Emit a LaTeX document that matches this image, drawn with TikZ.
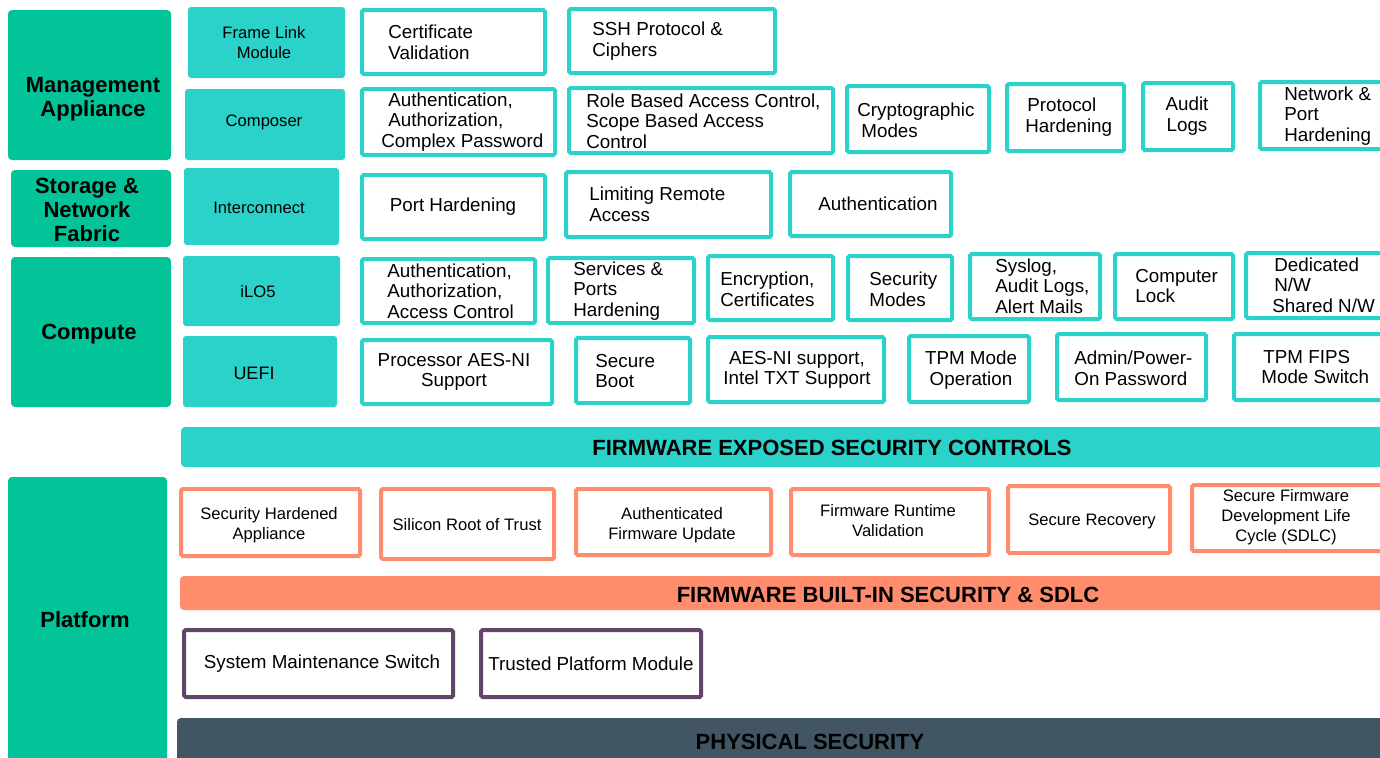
\documentclass[tikz,border=0pt]{standalone}
\usepackage{fontspec}
\setmainfont{Liberation Sans}
\definecolor{catgreen}{HTML}{02C498}
\definecolor{hteal}{HTML}{2AD2C9}
\definecolor{horange}{HTML}{FF8D6D}
\definecolor{hpurple}{HTML}{614767}
\definecolor{hslate}{HTML}{425563}
\tikzset{
  cat/.style={fill=catgreen, rounded corners=2pt},
  sub/.style={fill=hteal, rounded corners=1.5pt},
  tb/.style={draw=hteal, line width=2pt, fill=white, rounded corners=0.8pt},
  ob/.style={draw=horange, line width=2pt, fill=white, rounded corners=0.8pt},
  pb/.style={draw=hpurple, line width=2pt, fill=white, rounded corners=0.8pt},
  bar/.style={rounded corners=2pt},
  cattxt/.style={font=\fontsize{11}{12}\selectfont\bfseries, inner sep=0pt, align=center},
  subtxt/.style={font=\fontsize{8.3}{10}\selectfont, inner sep=0pt, align=center},
  lt/.style={font=\fontsize{9.4}{10.3}\selectfont, inner sep=0pt, align=left, anchor=west},
  ct/.style={font=\fontsize{9.4}{10.3}\selectfont, inner sep=0pt, align=center},
  ot/.style={font=\fontsize{8.3}{10}\selectfont, inner sep=0pt, align=center},
  bartxt/.style={font=\fontsize{11}{12}\selectfont\bfseries, inner sep=0pt},
}
\newcommand\tbx[4]{\draw[tb] (#1+2,#2+2) rectangle (#3-2,#4-2);}
\newcommand\obx[4]{\draw[ob] (#1+2,#2+2) rectangle (#3-2,#4-2);}
\newcommand\pbx[4]{\draw[pb] (#1+2,#2+2) rectangle (#3-2,#4-2);}
\begin{document}
\begin{tikzpicture}[x=0.5pt,y=-0.5pt]
\useasboundingbox (0,0) rectangle (1380,757);
\clip (0,0) rectangle (1380,757);
\fill[white] (0,0) rectangle (1380,757);

% category boxes
\fill[cat] (8,10) rectangle (171,160);
\node[cattxt] (mgmt) at (93,99) {Management\\Appliance};
\fill[cat] (11,170) rectangle (171,247);
\node[cattxt] (stor) at (87,210) {Storage \&\\Network\\Fabric};
\fill[cat] (11,257) rectangle (171,407);
\node[cattxt] (comp) at (89,334) {Compute};
\fill[cat] (8,477) rectangle (167,770);
\node[cattxt] (plat) at (85,620) {Platform};

% sub boxes
\fill[sub] (188,7) rectangle (345,78);
\node[subtxt] (flm) at (264,43) {Frame Link\\Module};
\fill[sub] (185,89) rectangle (345,160);
\node[subtxt] (composer) at (264,122) {Composer};
\fill[sub] (184,168) rectangle (339,245);
\node[subtxt] (intc) at (259,208) {Interconnect};
\fill[sub] (183,256) rectangle (340,326);
\node[subtxt] (ilo) at (258,292) {iLO5};
\fill[sub] (183,336) rectangle (337,407);
\node[subtxt, font=\fontsize{9}{10}\selectfont] (uefi) at (254,373) {UEFI};

% row 1
\tbx{360}{8}{547}{76}
\node[lt] (cert) at (388,42) {Certificate\\Validation};
\tbx{567}{7}{777}{75}
\node[lt] (ssh) at (592,41) {SSH Protocol \&\\Ciphers};

% row 2
\tbx{360}{87}{557}{157}
\node[lt] (aacp) at (381,122) {\hspace*{3.5pt}Authentication,\\\hspace*{3.5pt}Authorization,\\Complex Password};
\tbx{567}{86}{835}{155}
\node[lt] (rbac) at (586,121) {Role Based Access Control,\\Scope Based Access\\Control};
\tbx{845}{84}{991}{154}
\node[lt] (crypt) at (857,120) {Cryptographic\\\hspace*{2pt}Modes};
\tbx{1005}{82}{1126}{153}
\node[lt] (proth) at (1025,117) {\hspace*{1pt}Protocol\\Hardening};
\tbx{1141}{81}{1235}{152}
\node[ct] (audit) at (1187,116) {Audit\\Logs};
\tbx{1258}{80}{1392}{151}
\node[lt] (netph) at (1284,116) {Network \&\\Port\\Hardening};

% row 3
\tbx{360}{173}{547}{241}
\node[ct] (porth) at (453,207) {Port Hardening};
\tbx{564}{170}{773}{239}
\node[lt] (lra) at (589,204) {Limiting Remote\\Access};
\tbx{788}{170}{953}{238}
\node[ct] (authc) at (878,204) {Authentication};

% row 4
\tbx{360}{257}{537}{325}
\node[lt] (aaac) at (387,291) {Authentication,\\Authorization,\\Access Control};
\tbx{546}{256}{696}{325}
\node[lt] (sph) at (573,291) {Services \&\\Ports\\Hardening};
\tbx{706}{254}{835}{322}
\node[lt] (encr) at (720,289) {Encryption,\\Certificates};
\tbx{846}{254}{954}{322}
\node[lt] (secm) at (869,289) {Security\\Modes};
\tbx{968}{252}{1102}{321}
\node[lt] (sys) at (995,286) {Syslog,\\Audit Logs,\\Alert Mails};
\tbx{1113}{252}{1235}{321}
\node[lt] (clock) at (1135,286) {Computer\\Lock};
\tbx{1244}{251}{1392}{320}
\node[lt] (dnw) at (1272,285) {\hspace*{1pt}Dedicated\\\hspace*{1pt}N/W\\Shared N/W};

% row 5
\tbx{360}{338}{554}{406}
\node[ct] (paes) at (454,372) {Processor AES-NI\\Support};
\tbx{574}{336}{692}{405}
\node[lt] (sboot) at (595,371) {Secure\\Boot};
\tbx{706}{335}{886}{404}
\node[ct] (aestxt) at (797,370) {AES-NI support,\\Intel TXT Support};
\tbx{907}{334}{1031}{404}
\node[ct] (tpmm) at (971,370) {TPM Mode\\Operation};
\tbx{1055}{332}{1208}{402}
\node[lt] (admin) at (1074,368) {Admin/Power-\\On Password};
\tbx{1232}{332}{1392}{402}
\node[lt] (fips) at (1261,367) {\hspace*{1pt}TPM FIPS\\Mode Switch};

% firmware exposed bar
\fill[hteal, bar] (181,427) rectangle (1395,467);
\node[bartxt] (fesc) at (832,448) {FIRMWARE EXPOSED SECURITY CONTROLS};

% orange boxes
\obx{179}{487}{362}{558}
\node[ot] (sha) at (269,525) {Security Hardened\\Appliance};
\obx{379}{487}{556}{561}
\node[ot] (srot) at (467,525) {Silicon Root of Trust};
\obx{574}{487}{773}{557}
\node[ot] (afu) at (672,525) {Authenticated\\Firmware Update};
\obx{789}{487}{991}{557}
\node[ot] (frv) at (888,521) {Firmware Runtime\\Validation};
\obx{1006}{484}{1172}{555}
\node[ot] (srec) at (1092,521) {Secure Recovery};
\obx{1190}{483}{1392}{553}
\node[ot] (sdlc) at (1286,517) {Secure Firmware\\Development Life\\Cycle (SDLC)};

% orange bar
\fill[horange, bar] (180,576) rectangle (1395,610);
\node[bartxt] (fbis) at (888,595) {FIRMWARE BUILT-IN SECURITY \& SDLC};

% purple boxes
\pbx{182}{628}{455}{699}
\node[ct] (sms) at (322,664) {System Maintenance Switch};
\pbx{479}{628}{703}{699}
\node[ct] (tpm) at (591,664) {Trusted Platform Module};

% physical security bar
\fill[hslate, bar] (177,718) rectangle (1395,780);
\node[bartxt] (phys) at (810,742) {PHYSICAL SECURITY};
\end{tikzpicture}
\end{document}
